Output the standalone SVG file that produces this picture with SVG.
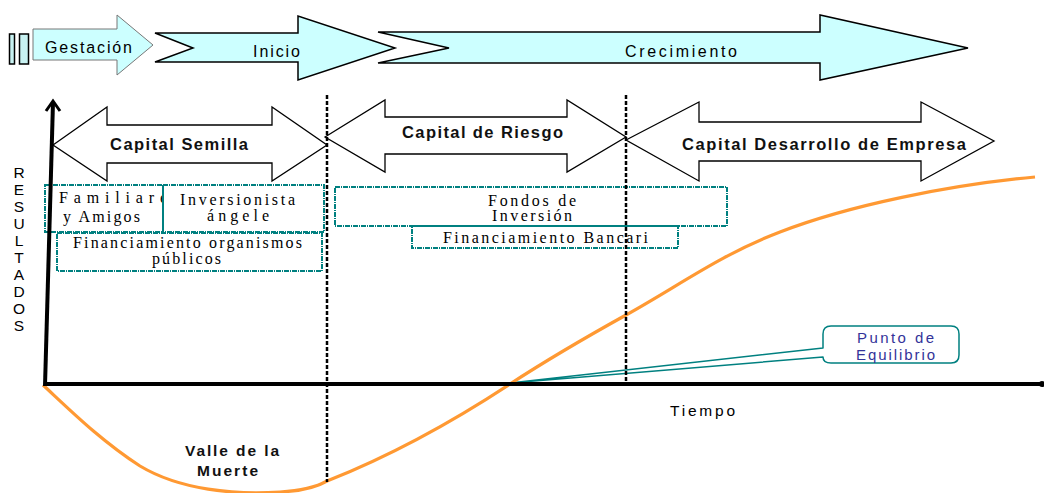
<svg xmlns="http://www.w3.org/2000/svg" width="1044" height="493" viewBox="0 0 1044 493">
<style>
.phase{fill:#CCFFFF;stroke:#000;stroke-width:1.5;stroke-linejoin:miter}
.cap{fill:#fff;stroke:#000;stroke-width:1.3}
.box{fill:none;stroke:#008080;stroke-width:2;stroke-dasharray:5 1 1 1}
.sans{font-family:"Liberation Sans",Arial,sans-serif;fill:#000}
.bold{font-family:"Liberation Sans",Arial,sans-serif;font-weight:bold;fill:#111}
.serif{font-family:"Liberation Serif","Times New Roman",serif;font-size:16px;fill:#000}
.dash{stroke:#000;stroke-width:2.5;stroke-dasharray:4 2;fill:none}
</style>
<defs>
<clipPath id="clipFam"><rect x="45" y="185" width="117" height="47"/></clipPath>
</defs>
<rect width="1044" height="493" fill="#fff"/>

<g id="phase-stops">
<rect x="9.5" y="34" width="5" height="30" fill="#C8F2F2" stroke="#000" stroke-width="1.5"/>
<rect x="19.5" y="34" width="9" height="30" fill="#C8F2F2" stroke="#000" stroke-width="1.5"/>
</g>
<g id="gestacion">
<polygon class="phase" style="stroke:#777;stroke-width:1" points="33,29 117,29 117,15 153,45 117,75 117,60 33,60"/>
<text class="sans" x="45" y="53" font-size="16" textLength="87" lengthAdjust="spacing">Gestación</text>
</g>
<g id="inicio">
<polygon class="phase" points="155,33 298,33 298,16 395,48 298,80 298,62 155,62 193,48"/>
<text class="sans" x="253" y="57" font-size="16" textLength="47" lengthAdjust="spacing">Inicio</text>
</g>
<g id="crecimiento">
<polygon class="phase" points="378,32 820,32 820,15 968,48 820,80 820,63 378,63 449,48"/>
<text class="sans" x="625" y="57" font-size="16" textLength="112" lengthAdjust="spacing">Crecimiento</text>
</g>

<g id="capital-semilla">
<polygon class="cap" points="53,145 107,107 107,125 272,125 272,107 327,145 272,181 272,163 107,163 107,181"/>
<text class="bold" x="110" y="150" font-size="16.5" textLength="138" lengthAdjust="spacing">Capital Semilla</text>
</g>
<g id="capital-riesgo">
<polygon class="cap" points="325,137 385,100 385,117 567,117 567,100 626,137 567,172 567,154 385,154 385,172"/>
<text class="bold" x="402" y="138" font-size="16.5" textLength="161" lengthAdjust="spacing">Capital de Riesgo</text>
</g>
<g id="capital-desarrollo">
<polygon class="cap" points="626,140 699,102 699,122 921,122 921,102 994,141 921,181 921,161 699,161 699,181"/>
<text class="bold" x="682" y="150" font-size="16.5" textLength="284" lengthAdjust="spacing">Capital Desarrollo de Empresa</text>
</g>

<g id="familiares">
<rect class="box" x="45" y="185" width="118" height="47"/>
<g clip-path="url(#clipFam)">
<text class="serif" x="59" y="203" textLength="108" lengthAdjust="spacing">Familiare</text>
</g>
<text class="serif" x="63" y="222" textLength="77" lengthAdjust="spacing">y Amigos</text>
</g>
<g id="inversionista">
<rect class="box" x="163" y="185" width="161" height="47"/>
<text class="serif" x="180" y="205" textLength="115" lengthAdjust="spacing">Inversionista</text>
<text class="serif" x="207" y="221" textLength="62" lengthAdjust="spacing">ángele</text>
</g>
<g id="organismos">
<rect class="box" x="57" y="233" width="265" height="38"/>
<text class="serif" x="73" y="248" textLength="229" lengthAdjust="spacing">Financiamiento organismos</text>
<text class="serif" x="152" y="264" textLength="69" lengthAdjust="spacing">públicos</text>
</g>
<g id="fondos">
<rect class="box" x="335" y="187" width="392" height="39"/>
<text class="serif" x="488" y="206" textLength="88" lengthAdjust="spacing">Fondos de</text>
<text class="serif" x="492" y="221" textLength="80" lengthAdjust="spacing">Inversión</text>
</g>
<g id="bancario">
<rect class="box" x="412" y="226" width="266" height="22"/>
<text class="serif" x="443" y="243" textLength="205" lengthAdjust="spacing">Financiamiento Bancari</text>
</g>

<g id="punto-equilibrio">
<path d="M823,348 L823,334 Q823,326 831,326 L951,326 Q959,326 959,334 L959,355 Q959,363 951,363 L831,363 Q823,363 823,357 L510,383 Z" fill="#fff" stroke="#008080" stroke-width="1.5" stroke-linejoin="round"/>
<text class="sans" x="857" y="343" font-size="15" style="fill:#333399" textLength="77" lengthAdjust="spacing">Punto de</text>
<text class="sans" x="856" y="360" font-size="15" style="fill:#333399" textLength="79" lengthAdjust="spacing">Equilibrio</text>
</g>

<g id="connectors">
<path id="curve" d="M43,385 C70,410 100,440 140,466 C180,490 235,495 280,492 C300,491 315,488 327,481 C380,460 440,430 510,384 C550,358 590,335 626,315 C680,285 720,255 780,232 C850,205 950,185 1035,177" fill="none" stroke="#FF9933" stroke-width="3.2"/>
<line class="dash" x1="327" y1="95" x2="327" y2="482"/>
<line class="dash" x1="626" y1="95" x2="626" y2="385"/>
<line x1="45" y1="384" x2="1042" y2="384" stroke="#000" stroke-width="4"/>
<circle cx="1042" cy="384" r="3" fill="#000"/>
<line x1="45" y1="386" x2="53" y2="102" stroke="#000" stroke-width="4"/>
<polyline points="46,111 53,101 60,111" fill="none" stroke="#000" stroke-width="3"/>
</g>

<g id="labels">
<text class="sans" font-size="15.5" text-anchor="middle">
<tspan x="19" y="178">R</tspan><tspan x="19" y="195">E</tspan><tspan x="19" y="212">S</tspan><tspan x="19" y="229">U</tspan><tspan x="19" y="246">L</tspan><tspan x="19" y="263">T</tspan><tspan x="19" y="280">A</tspan><tspan x="19" y="297">D</tspan><tspan x="19" y="314">O</tspan><tspan x="19" y="331">S</tspan>
</text>
<text class="sans" x="670" y="416" font-size="15.5" textLength="65" lengthAdjust="spacing">Tiempo</text>
<text class="bold" x="185" y="456" font-size="15.5" textLength="94" lengthAdjust="spacing">Valle de la</text>
<text class="bold" x="197" y="476" font-size="15.5" textLength="61" lengthAdjust="spacing">Muerte</text>
</g>
</svg>
